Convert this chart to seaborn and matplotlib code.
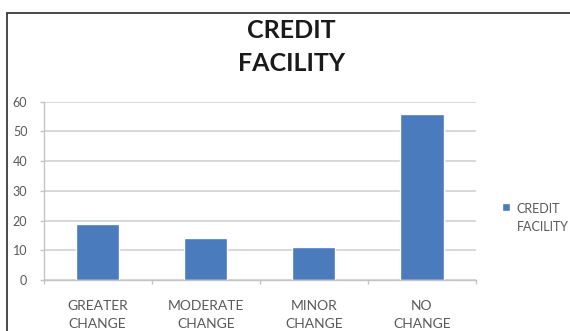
import matplotlib
matplotlib.use("Agg")
import matplotlib.pyplot as plt
import seaborn as sns
import pandas as pd
from matplotlib.patches import Rectangle

# ---- data ----
categories = ["GREATER\nCHANGE", "MODERATE\nCHANGE", "MINOR\nCHANGE", "NO\nCHANGE"]
values = [19, 14, 11, 56]
series_name = "CREDIT\nFACILITY"
chart_title = "CREDIT\nFACILITY"
y_ticks = [0, 10, 20, 30, 40, 50, 60]

BAR = "#4a7bbd"
TXT = "#595959"
GRID = "#d6d6d6"
AX = "#c4c4c4"

sns.set_theme(style="white")
plt.rcParams['font.family'] = ['Lato', 'DejaVu Sans']

fig = plt.figure(figsize=(5.7, 3.31), dpi=100)
ax = fig.add_axes([43.6 / 570, (331 - 280) / 331, 432.4 / 570, 178.3 / 331])

df = pd.DataFrame({"category": categories, "value": values})
sns.barplot(data=df, x="category", y="value", color=BAR, saturation=1,
            width=0.4, ax=ax, label=series_name)

ax.set_xlim(-0.5, len(categories) - 0.5)
ax.set_ylim(0, 60)
ax.set_yticks(y_ticks)
ax.set_xlabel("")
ax.set_ylabel("")
ax.yaxis.grid(True, color=GRID, lw=1.3)
ax.set_axisbelow(True)

for s in ["top", "right"]:
    ax.spines[s].set_visible(False)
for s in ["left", "bottom"]:
    ax.spines[s].set_color(AX)
    ax.spines[s].set_linewidth(1.0)

ax.tick_params(axis="y", length=3.2, width=1, color=AX, pad=8.5,
               labelsize=9, labelcolor=TXT, left=True)
ax.tick_params(axis="x", which="major", length=0, pad=14.5,
               labelsize=10, labelcolor=TXT)
for t in ax.get_xticklabels():
    t.set_linespacing(1.6)
ax.set_xticks([i - 0.5 for i in range(len(categories) + 1)], minor=True)
ax.tick_params(axis="x", which="minor", length=3, width=1, color=AX, bottom=True)

fig.text(291 / 570, 1 - 19 / 331, chart_title, ha="center", va="top",
         fontsize=18, fontweight="bold", color="#1a1a1a", linespacing=1.55)

leg = ax.legend(loc="upper left", bbox_to_anchor=(502 / 570, 1 - 203 / 331),
                bbox_transform=fig.transFigure, frameon=False, fontsize=9,
                handlelength=0.6, handleheight=0.6, handletextpad=0.55,
                borderaxespad=0, borderpad=0)
for t in leg.get_texts():
    t.set_color(TXT)
    t.set_linespacing(1.6)
# put the legend square next to the first line of the label
for col in leg._legend_handle_box.get_children():
    for row in col.get_children():
        row.align = "top"

fig.patches.append(Rectangle((7 / 570, -0.1), 1.2, 1.1 - 12.5 / 331,
                             transform=fig.transFigure, fill=False,
                             edgecolor="#3a3a3a", lw=1.3))

fig.savefig("out.png", dpi=100)
